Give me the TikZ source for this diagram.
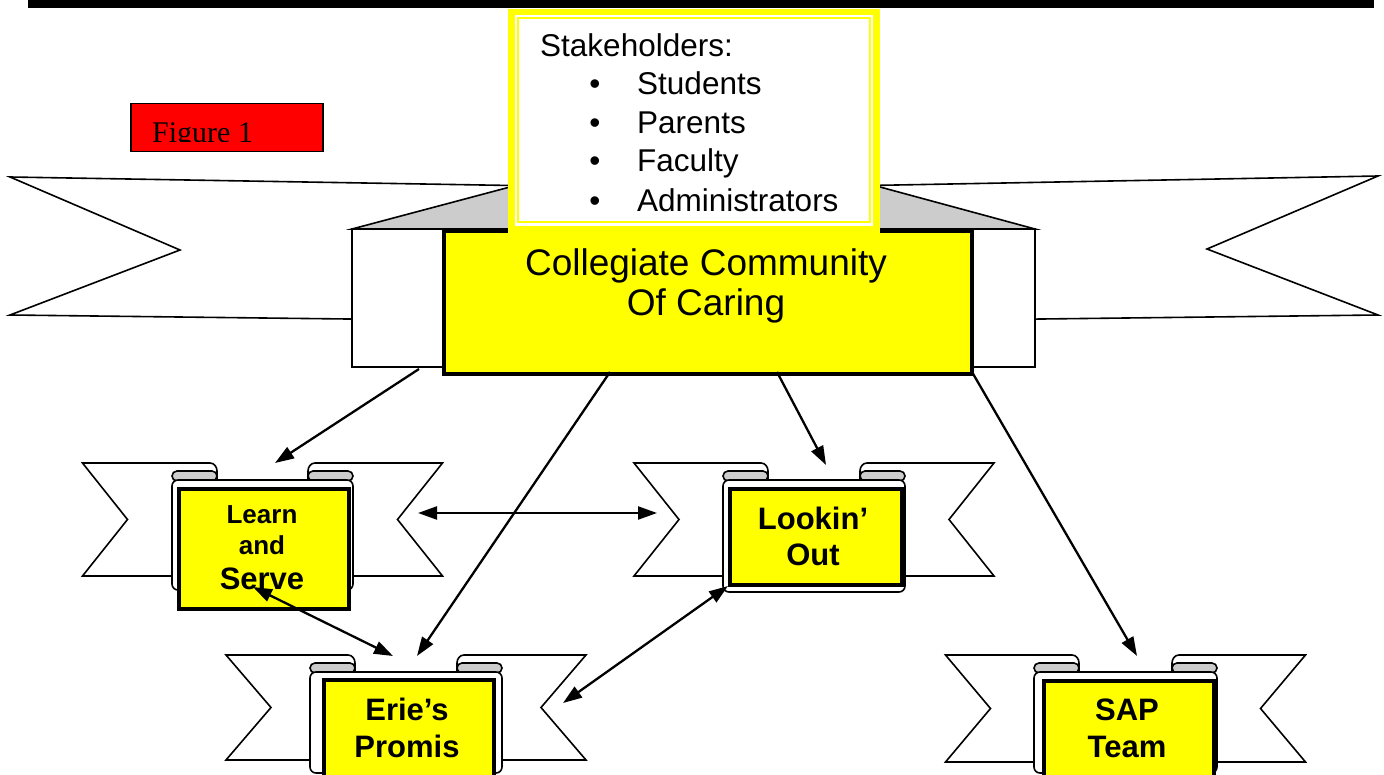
\documentclass[tikz,border=0pt]{standalone}
\usepackage{fontspec}
\setmainfont{Liberation Sans}
\newfontfamily\timesf{Liberation Serif}
\usetikzlibrary{arrows.meta}
\definecolor{yel}{HTML}{FFFF00}
\definecolor{redbox}{HTML}{FF0000}
\definecolor{curlgray}{HTML}{CCCCCC}
% small banner: #1 cx, #2 tail top y, #3 tail height, #4 panel half width, #5 panel bottom (relative)
\newcommand{\smallbanner}[5]{%
\begin{scope}[shift={(#1,#2)}]
\draw[outl,fill=white] (-180,0) -- ({-#4+38},0) to[out=0,in=90] ({-#4+45},8) -- ({-#4+45},#3) -- (-180,#3) -- (-135,{#3/2}) -- cycle;
\draw[outl,fill=white] (180,0) -- ({#4-38},0) to[out=180,in=90] ({#4-45},8) -- ({#4-45},#3) -- (180,#3) -- (135,{#3/2}) -- cycle;
\draw[outl,fill=curlgray,rounded corners=5] ({-#4},8) rectangle ({-#4+45},18);
\draw[outl,fill=curlgray,rounded corners=5] ({#4-45},8) rectangle ({#4},18);
\draw[outl,fill=white,rounded corners=6] ({-#4},17) rectangle ({#4},#5);
\end{scope}}
\begin{document}
\begin{tikzpicture}[x=1pt,y=-1pt,
  outl/.style={draw=black,line width=1.6},
  ybox/.style={draw=black,fill=yel,line width=4,inner sep=0,anchor=north west},
  arr/.style={line width=2.3,-{Triangle[length=19pt,width=13pt]}},
  darr/.style={line width=2.3,{Triangle[length=19pt,width=13pt]}-{Triangle[length=19pt,width=13pt]}},
  bt/.style={font=\bfseries\fontsize{31}{36}\selectfont,anchor=base,inner sep=0},
  btsmall/.style={font=\bfseries\fontsize{26}{30}\selectfont,anchor=base,inner sep=0},
  st/.style={font=\fontsize{31.5}{39}\selectfont,anchor=base west,inner sep=0},
  bul/.style={font=\fontsize{31.5}{39}\selectfont,anchor=base,inner sep=0}
]
\clip (0,0) rectangle (1384,775);
\fill[white] (0,0) rectangle (1384,775);

% top frame
\draw[line width=8] (32,-20) -- (32,4) -- (1370,4) -- (1370,-20);

% Figure 1 label
\node[draw=black,line width=1.5,fill=redbox,inner sep=0,minimum width=192,minimum height=48,anchor=north west] (figbox) at (130,103) {};
\begin{scope}
\clip (131,104) rectangle (321,141.5);
\node[anchor=base west,inner sep=0,font=\timesf\fontsize{30}{31}\selectfont] (figtext) at (152,143) {Figure 1};
\end{scope}

% big banner tails
\draw[outl,fill=white] (10,177) -- (600,187) -- (600,322) -- (10,315) -- (180,250) -- cycle;
\draw[outl,fill=white] (1378,176) -- (790,187) -- (790,322) -- (1378,315) -- (1207,249) -- cycle;
% gray back band
\draw[outl,fill=curlgray] (352,229) -- (510,187) -- (880,187) -- (1035,229) -- cycle;
% fold
\draw[outl,fill=white] (352,229) rectangle (1035,367);
% main box
\node[ybox,minimum width=528,minimum height=143] (main) at (442,229) {};
\node[font=\fontsize{37}{40}\selectfont,align=center,inner sep=0] (maintext) at (706,285.5) {Collegiate Community\\Of Caring};

% stakeholders box
\node[fill=yel,inner sep=0,minimum width=372,minimum height=224,anchor=north west] (stake) at (508,9) {};
\fill[white] (515,15) rectangle (873,226);
\draw[yel,line width=2] (518,18) rectangle (870,222);
\node[st] (s0) at (540,57) {Stakeholders:};
\node[bul] (b1) at (595,95) {•};
\node[st] (s1) at (637,95) {Students};
\node[bul] (b2) at (595,134) {•};
\node[st] (s2) at (637,134) {Parents};
\node[bul] (b3) at (595,172) {•};
\node[st] (s3) at (637,172) {Faculty};
\node[bul] (b4) at (595,212) {•};
\node[st] (s4) at (637,212) {Administrators};

% small banners
\smallbanner{262.5}{463}{113}{90.5}{127}
\smallbanner{814}{463}{113}{91}{129}
\smallbanner{406}{655}{105}{96}{118}
\smallbanner{1125.5}{655}{107}{91.5}{118}

\node[ybox,minimum width=170,minimum height=120] (learn) at (177,487) {};
\node[btsmall] (learn1) at (262,523) {Learn};
\node[btsmall] (learn2) at (262,554) {and};
\node[bt] (learn3) at (262,589) {Serve};

\node[ybox,minimum width=172,minimum height=96] (look) at (728,487) {};
\node[bt] (look1) at (813,529) {Lookin’};
\node[bt] (look2) at (813,565) {Out};

\node[ybox,minimum width=170,minimum height=130] (erie) at (322,678) {};
\node[bt] (erie1) at (407,720) {Erie’s};
\node[bt] (erie2) at (407,757) {Promis};

\node[ybox,minimum width=170,minimum height=130] (sap) at (1042,679) {};
\node[bt] (sap1) at (1127,720) {SAP};
\node[bt] (sap2) at (1127,757) {Team};

% connectors
\coordinate (a1s) at (419,369);  \coordinate (a1e) at (275,463);
\coordinate (a2s) at (418,513);  \coordinate (a2e) at (657,513);
\coordinate (a3s) at (777,372);  \coordinate (a3e) at (826,465);
\coordinate (a4s) at (610,372);  \coordinate (a4e) at (417,656);
\coordinate (a5s) at (253,587);  \coordinate (a5e) at (393,656);
\coordinate (a6s) at (728,586);  \coordinate (a6e) at (563,703);
\coordinate (a7s) at (972,372);  \coordinate (a7e) at (1137,656);
\draw[arr] (a1s) -- (a1e);
\draw[darr] (a2s) -- (a2e);
\draw[arr] (a3s) -- (a3e);
\draw[arr] (a4s) -- (a4e);
\draw[darr] (a5s) -- (a5e);
\draw[darr] (a6s) -- (a6e);
\draw[arr] (a7s) -- (a7e);
\end{tikzpicture}
\end{document}
